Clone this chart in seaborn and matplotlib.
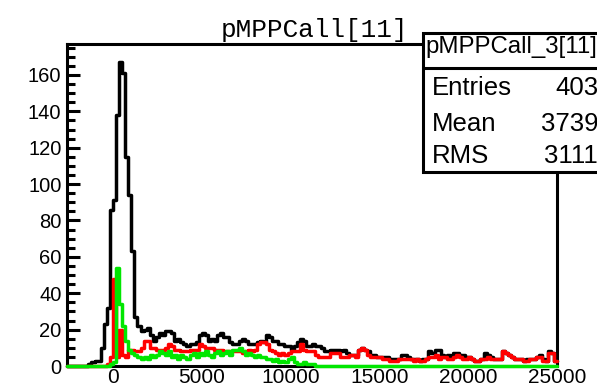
import numpy as np
import pandas as pd
import matplotlib
matplotlib.use("Agg")
import matplotlib.pyplot as plt
import seaborn as sns
from matplotlib.patches import Rectangle
from matplotlib.lines import Line2D
from matplotlib.ticker import MultipleLocator

# ---------------- data ----------------
x_min, x_max, n_bins = -2600, 25000, 160

black_counts = [
    0, 0, 0, 0, 0, 0, 0, 1, 2, 3,
    3, 10, 23, 32, 86, 91, 138, 167, 161, 115,
    94, 63, 27, 22, 19, 20, 21, 17, 14, 16,
    18, 17, 19, 19, 18, 14, 15, 13, 12, 11,
    12, 12, 13, 17, 18, 17, 14, 15, 14, 17,
    18, 16, 16, 13, 12, 12, 14, 15, 14, 12,
    12, 12, 13, 14, 13, 17, 16, 14, 14, 12,
    12, 11, 11, 9, 11, 13, 15, 14, 11, 11,
    12, 11, 11, 10, 8, 8, 9, 9, 9, 8,
    9, 7, 6, 6, 6, 9, 10, 9, 8, 6,
    6, 5, 5, 5, 5, 4, 4, 4, 4, 6,
    6, 5, 4, 4, 4, 3, 4, 4, 8, 7,
    9, 9, 6, 5, 6, 5, 7, 7, 6, 6,
    5, 5, 4, 3, 3, 4, 7, 6, 5, 4,
    4, 4, 8, 7, 6, 5, 4, 4, 4, 3,
    4, 4, 4, 5, 6, 4, 3, 8, 7, 3,
]

red_counts = [
    0, 0, 0, 0, 0, 0, 0, 0, 0, 0,
    0, 0, 0, 1, 5, 48, 5, 20, 6, 5,
    9, 9, 8, 8, 10, 14, 14, 10, 10, 9,
    9, 9, 10, 12, 11, 9, 9, 8, 8, 8,
    9, 9, 9, 12, 11, 10, 10, 10, 9, 9,
    9, 8, 8, 8, 8, 8, 8, 7, 8, 9,
    8, 9, 12, 13, 13, 12, 9, 8, 7, 6,
    7, 6, 7, 8, 8, 8, 12, 9, 8, 8,
    8, 6, 5, 5, 5, 5, 7, 7, 7, 5,
    5, 5, 6, 6, 5, 9, 10, 9, 6, 5,
    5, 5, 5, 4, 4, 3, 3, 3, 4, 4,
    4, 4, 4, 3, 4, 3, 3, 4, 5, 5,
    6, 4, 5, 5, 4, 4, 5, 6, 5, 4,
    4, 5, 4, 3, 3, 4, 4, 5, 4, 4,
    4, 4, 8, 7, 6, 5, 4, 4, 4, 3,
    3, 4, 4, 5, 5, 3, 3, 7, 7, 3,
]

green_counts = [
    0, 0, 0, 0, 0, 0, 0, 0, 0, 0,
    0, 0, 0, 0, 1, 2, 54, 34, 22, 14,
    9, 7, 6, 5, 4, 5, 4, 6, 5, 6,
    8, 7, 6, 8, 5, 6, 4, 6, 5, 4,
    6, 7, 5, 7, 6, 8, 6, 5, 7, 8,
    6, 7, 8, 6, 9, 9, 10, 8, 6, 7,
    6, 5, 6, 5, 5, 4, 4, 3, 4, 2,
    3, 2, 4, 5, 2, 1, 1, 2, 1, 1,
    1, 0, 0, 0, 0, 0, 0, 0, 0, 0,
    0, 0, 0, 0, 0, 0, 0, 0, 0, 0,
    0, 0, 0, 0, 0, 0, 0, 0, 0, 0,
    0, 0, 0, 0, 0, 0, 0, 0, 0, 0,
    0, 0, 0, 0, 0, 0, 0, 0, 0, 0,
    0, 0, 0, 0, 0, 0, 0, 0, 0, 0,
    0, 0, 0, 0, 0, 0, 0, 0, 0, 0,
    0, 0, 0, 0, 0, 0, 0, 0, 0, 0,
]

series_names = ["all", "cut_red", "cut_green"]
series_colors = ["#000000", "#ff0000", "#00e600"]

y_ticks = [0, 20, 40, 60, 80, 100, 120, 140, 160]
x_ticks = [0, 5000, 10000, 15000, 20000, 25000]
y_max = 177

title_text = "pMPPCall[11]"
stats_name = "pMPPCall_3[11]"
stats_labels = ["Entries", "Mean", "RMS"]
stats_values = ["403", "3739", "3111"]

# ---------------- build ----------------
edges = [float(e) for e in np.linspace(x_min, x_max, n_bins + 1)]
centers = [0.5 * (edges[i] + edges[i + 1]) for i in range(n_bins)]
df = pd.DataFrame({
    "x": centers * 3,
    "w": black_counts + red_counts + green_counts,
    "series": np.repeat(series_names, n_bins),
})

W, H = 597, 386
sns.set_style("white")
plt.rcParams["font.family"] = ["Liberation Sans", "DejaVu Sans"]
plt.rcParams["text.color"] = "black"
plt.rcParams["xtick.color"] = "black"
plt.rcParams["ytick.color"] = "black"
plt.rcParams["axes.labelcolor"] = "black"
fig = plt.figure(figsize=(W / 100, H / 100), dpi=100)

left, right, top, bottom = 67, 557, 44, 366
ax = fig.add_axes([left / W, 1 - bottom / H, (right - left) / W, (bottom - top) / H])
ax.set_facecolor("white")

lw = 2.5
for name, col in zip(series_names, series_colors):
    sns.histplot(data=df[df["series"] == name], x="x", weights="w", bins=edges,
                 element="step", fill=False, color=col, linewidth=lw, ax=ax)

for art in list(ax.lines) + list(ax.collections) + list(ax.patches):
    art.set_clip_on(False)
    art.set_zorder(3)

ax.set_xlim(x_min, x_max)
ax.set_ylim(0, y_max)
ax.set_xlabel("")
ax.set_ylabel("")
ax.set_xticks(x_ticks)
ax.set_xticklabels([str(v) for v in x_ticks])
ax.set_yticks(y_ticks)
ax.set_yticklabels([str(v) for v in y_ticks])
ax.yaxis.set_minor_locator(MultipleLocator(5))
ax.tick_params(axis="x", which="both", length=0, labelsize=15, pad=1.5,
               labelcolor="black")
ax.tick_params(axis="y", which="major", direction="in", length=9.5, width=2.2,
               labelsize=14.5, pad=4, left=True, right=False, labelcolor="black",
               color="black")
ax.tick_params(axis="y", which="minor", direction="in", length=5.5, width=2.2,
               left=True, right=False, color="black")
for s in ax.spines.values():
    s.set_linewidth(2.2)
    s.set_color("black")
ax.grid(False)

# title
fig.text(314 / W, 1 - 37 / H, title_text, family="Liberation Mono", fontsize=18.8,
         ha="center", va="baseline", color="black")

# stats box
bx0, by0, by1, bsep = 422.7, 32.7, 172.3, 68.3
box = Rectangle((bx0 / W, 1 - by1 / H), (640 - bx0) / W, (by1 - by0) / H,
                transform=fig.transFigure, facecolor="white", edgecolor="black",
                linewidth=2.2, zorder=10)
fig.add_artist(box)
fig.add_artist(Line2D([bx0 / W, 1.1], [1 - bsep / H, 1 - bsep / H],
                      transform=fig.transFigure, color="black", linewidth=2.2, zorder=11))
fig.text(425 / W, 1 - 53 / H, stats_name, fontsize=17.3, ha="left", va="baseline",
         zorder=12, color="black")
for i, (lab, val) in enumerate(zip(stats_labels, stats_values)):
    yb = [95, 131, 163][i]
    fig.text(432 / W, 1 - yb / H, lab, fontsize=18.5, ha="left", va="baseline",
             zorder=12, color="black")
    fig.text(598 / W, 1 - yb / H, val, fontsize=18.5, ha="right", va="baseline",
             zorder=12, color="black")

fig.savefig("out.png", dpi=100, facecolor="white")
